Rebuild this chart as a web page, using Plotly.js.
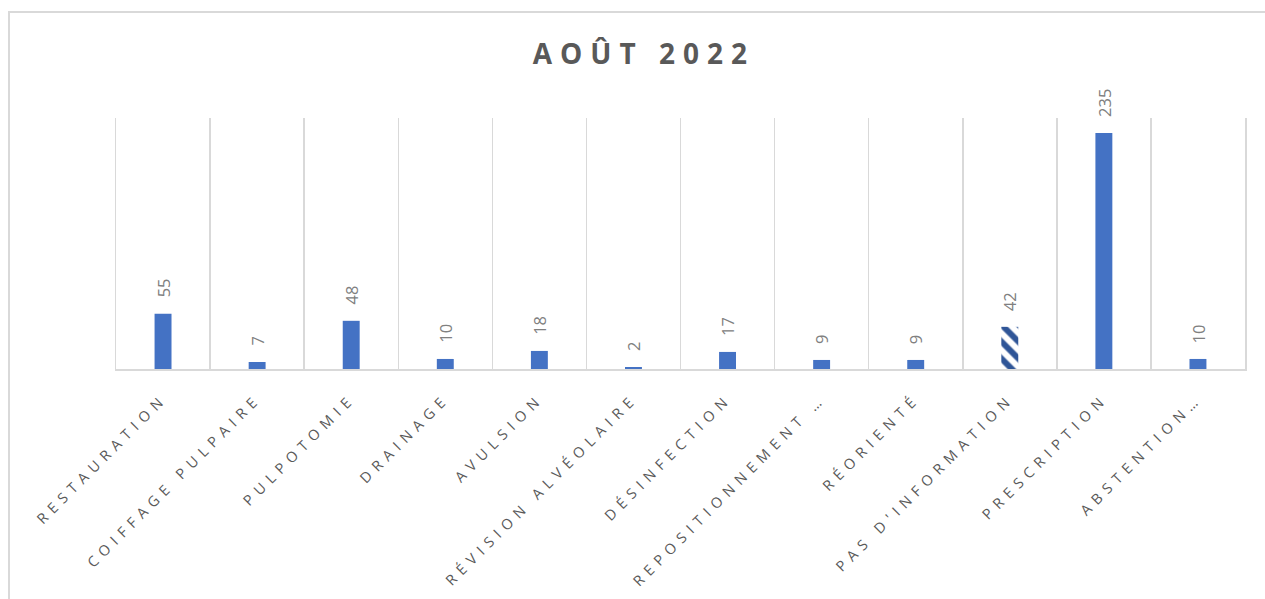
<!DOCTYPE html>
<html>
<head>
<meta charset="utf-8">
<script src="https://cdn.plot.ly/plotly-3.0.1.min.js"></script>
<style>
  html, body { margin: 0; padding: 0; background: #fff; }
  #frame { position: absolute; left: 8px; top: 11px; width: 1300px; height: 700px;
           border-top: 2px solid #d9d9d9; border-left: 2px solid #d9d9d9; }
  #chart { position: absolute; left: 0; top: 0; width: 1265px; height: 599px; }
  #chart .xtick text { letter-spacing: 6px; }
  #chart .gtitle { letter-spacing: 8px; }
</style>
</head>
<body>
<div id="frame"></div>
<div id="chart"></div>
<script>
const categories = [
  "RESTAURATION", "COIFFAGE PULPAIRE", "PULPOTOMIE", "DRAINAGE", "AVULSION",
  "RÉVISION ALVÉOLAIRE", "DÉSINFECTION", "REPOSITIONNEMENT …", "RÉORIENTÉ",
  "PAS D'INFORMATION", "PRESCRIPTION", "ABSTENTION…"
];
const values = [55, 7, 48, 10, 18, 2, 17, 9, 9, 42, 235, 10];
const hatched = [false, false, false, false, false, false, false, false, false, true, false, false];
const titleText = "AOÛT 2022";

const barColor = "#4472c4";
const hatchColor = "#2f5597";

const solidTrace = {
  type: "bar",
  x: categories,
  y: values.map((v, i) => hatched[i] ? null : v),
  width: 0.18,
  marker: { color: barColor, line: { width: 0 } },
  hoverinfo: "skip"
};

const hatchTrace = {
  type: "bar",
  x: categories,
  y: values.map((v, i) => hatched[i] ? v : null),
  width: 0.18,
  marker: {
    color: hatchColor,
    line: { width: 0 },
    pattern: { shape: "\\", fgcolor: hatchColor, bgcolor: "#ffffff", size: 12, solidity: 0.5 }
  },
  hoverinfo: "skip"
};

const annotations = categories.map((c, i) => ({
  x: c, y: values[i], xref: "x", yref: "y",
  text: String(values[i]),
  textangle: -90,
  showarrow: false,
  xanchor: "center", yanchor: "bottom",
  yshift: 14,
  font: { family: "Open Sans, sans-serif", size: 16.5, color: "#808080" }
}));

const layout = {
  width: 1265, height: 599,
  margin: { l: 116, r: 20, t: 118, b: 230, pad: 0 },
  paper_bgcolor: "rgba(0,0,0,0)",
  plot_bgcolor: "rgba(0,0,0,0)",
  showlegend: false,
  barmode: "overlay",
  title: {
    text: "<b>" + titleText + "</b>",
    x: 0.509, xanchor: "center",
    y: 0.91, yanchor: "middle",
    font: { family: "Open Sans, sans-serif", size: 28, color: "#595959" }
  },
  xaxis: {
    type: "category",
    tickson: "boundaries",
    showgrid: true, gridcolor: "#d9d9d9", gridwidth: 1.5,
    showline: true, linecolor: "#d9d9d9", linewidth: 1.5,
    ticks: "", tickangle: -45, ticklabelstandoff: 14,
    tickfont: { family: "Open Sans, sans-serif", size: 14.5, color: "#595959" },
    automargin: false, fixedrange: true
  },
  yaxis: {
    range: [0, 250],
    showgrid: false, zeroline: false,
    showline: true, mirror: true, linecolor: "#d9d9d9", linewidth: 1.5,
    showticklabels: false, ticks: "",
    automargin: false, fixedrange: true
  },
  annotations: annotations
};

Plotly.newPlot("chart", [solidTrace, hatchTrace], layout, { displayModeBar: false, staticPlot: true });
</script>
</body>
</html>
